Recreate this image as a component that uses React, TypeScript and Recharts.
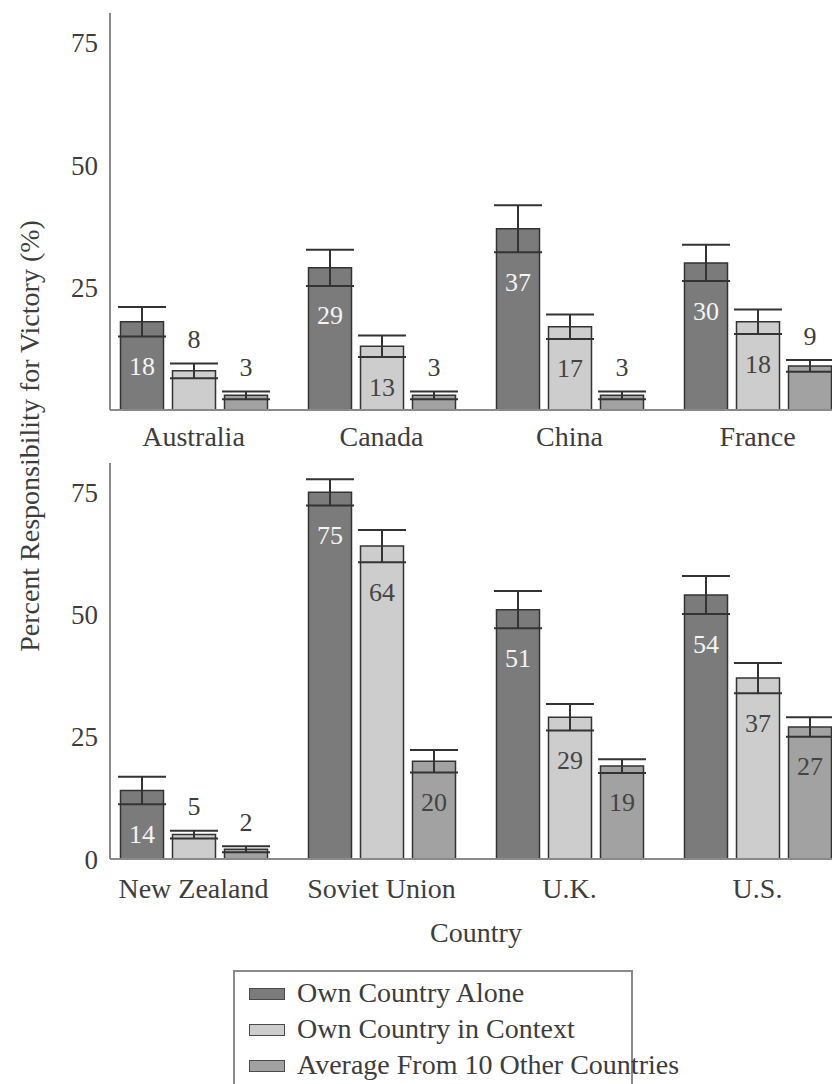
import React from 'react';
import { BarChart, Bar, XAxis, YAxis, ErrorBar, LabelList } from 'recharts';

// top panel
const topCountries = ['Australia', 'Canada', 'China', 'France'];
const topAlone = [18, 29, 37, 30];
const topContext = [8, 13, 17, 18];
const topOthers = [3, 3, 3, 9];
const topAloneErr = [3, 3.7, 4.8, 3.7];
const topContextErr = [1.5, 2.2, 2.5, 2.5];
const topOthersErr = [0.8, 0.8, 0.8, 1.2];

// bottom panel
const bottomCountries = ['New Zealand', 'Soviet Union', 'U.K.', 'U.S.'];
const bottomAlone = [14, 75, 51, 54];
const bottomContext = [5, 64, 29, 37];
const bottomOthers = [2, 20, 19, 27];
const bottomAloneErr = [2.8, 2.7, 3.8, 3.9];
const bottomContextErr = [0.8, 3.3, 2.7, 3.1];
const bottomOthersErr = [0.6, 2.3, 1.4, 2];

const topTicks = [25, 50, 75];
const bottomTicks = [0, 25, 50, 75];

const FONT = '"Liberation Serif", "DejaVu Serif", serif';
const TEXT = '#3d3d3d';
const AXIS = '#8a8a8a';
const EDGE = '#333';

const series = [
  { key: 'alone', name: 'Own Country Alone', fill: '#7b7b7b', inside: '#f4f4f4' },
  { key: 'context', name: 'Own Country in Context', fill: '#cdcdcd', inside: '#444' },
  { key: 'others', name: 'Average From 10 Other Countries', fill: '#a2a2a2', inside: '#444' },
];

function buildRows(
  countries: string[],
  alone: number[],
  context: number[],
  others: number[],
  aloneErr: number[],
  contextErr: number[],
  othersErr: number[]
) {
  return countries.map((country, i) => ({
    country,
    alone: alone[i],
    context: context[i],
    others: others[i],
    aloneErr: aloneErr[i],
    contextErr: contextErr[i],
    othersErr: othersErr[i],
  }));
}

const topRows = buildRows(topCountries, topAlone, topContext, topOthers, topAloneErr, topContextErr, topOthersErr);
const bottomRows = buildRows(bottomCountries, bottomAlone, bottomContext, bottomOthers, bottomAloneErr, bottomContextErr, bottomOthersErr);

// value label: inside the bar under the error bar, or above it for short bars
const makeLabel = (errs: number[], insideColor: string) => (props: any) => {
  const { x, y, width, height, value, index } = props;
  const v = Number(value);
  const ppu = v ? Number(height) / v : 0;
  const errPx = (errs[index] ?? 0) * ppu;
  const inside = v >= 10;
  const cy = inside ? Number(y) + errPx + 30 : Number(y) - errPx - 24;
  return (
    <text
      x={Number(x) + Number(width) / 2}
      y={cy}
      textAnchor="middle"
      dominantBaseline="central"
      fill={inside ? insideColor : TEXT}
      fontSize={26}
      fontFamily={FONT}
    >
      {v}
    </text>
  );
};

function Panel({ rows, ticks, height, labelGap }: { rows: any[]; ticks: number[]; height: number; labelGap: number }) {
  return (
    <BarChart
      width={860}
      height={height}
      data={rows}
      margin={{ top: 13, right: 8.5, left: 0, bottom: 12 }}
      barGap={9}
      barCategoryGap={20.5}
    >
      <XAxis
        dataKey="country"
        height={40}
        padding={{ left: -10.5, right: 0 }}
        axisLine={{ stroke: AXIS, strokeWidth: 2 }}
        tickLine={false}
        tickSize={0}
        tickMargin={labelGap}
        interval={0}
        tick={{ fill: TEXT, fontSize: 28, fontFamily: FONT }}
      />
      <YAxis
        width={110}
        domain={[0, 81]}
        ticks={ticks}
        allowDataOverflow
        axisLine={{ stroke: AXIS, strokeWidth: 2 }}
        tickLine={false}
        tickSize={0}
        tickMargin={12}
        tick={{ fill: TEXT, fontSize: 27, fontFamily: FONT }}
      />
      {series.map((s) => (
        <Bar key={s.key} dataKey={s.key} fill={s.fill} stroke={EDGE} strokeWidth={1.5} barSize={43} isAnimationActive={false}>
          <ErrorBar dataKey={s.key + 'Err'} width={24} stroke={EDGE} strokeWidth={2} />
          <LabelList dataKey={s.key} content={makeLabel(rows.map((r) => r[s.key + 'Err']), s.inside)} />
        </Bar>
      ))}
    </BarChart>
  );
}

export default function App() {
  return (
    <div
      style={{
        position: 'absolute',
        left: 0,
        top: 0,
        width: 832,
        height: 1084,
        overflow: 'hidden',
        background: '#fff',
        fontFamily: FONT,
      }}
    >
      <div style={{ position: 'absolute', left: 0, top: 0 }}>
        <Panel rows={topRows} ticks={topTicks} height={462} labelGap={16} />
      </div>
      <div style={{ position: 'absolute', left: 0, top: 450 }}>
        <Panel rows={bottomRows} ticks={bottomTicks} height={461} labelGap={19} />
      </div>

      <svg width={832} height={1084} style={{ position: 'absolute', left: 0, top: 0, pointerEvents: 'none' }}>
        <text
          x={0}
          y={0}
          transform="translate(29,436) rotate(-90)"
          textAnchor="middle"
          dominantBaseline="central"
          fill={TEXT}
          fontSize={28}
          fontFamily={FONT}
        >
          Percent Responsibility for Victory (%)
        </text>
        <text x={476} y={932} textAnchor="middle" dominantBaseline="central" fill={TEXT} fontSize={28} fontFamily={FONT}>
          Country
        </text>
      </svg>

      <div
        style={{
          position: 'absolute',
          left: 233,
          top: 970,
          width: 400,
          height: 130,
          border: `2px solid ${AXIS}`,
          boxSizing: 'border-box',
        }}
      >
        {series.map((s, i) => (
          <div key={s.key} style={{ position: 'absolute', left: 0, top: 3 + i * 36, height: 36, width: 396 }}>
            <div
              style={{
                position: 'absolute',
                left: 14,
                top: 13,
                width: 36,
                height: 12,
                background: s.fill,
                border: '1.5px solid #4a4a4a',
                boxSizing: 'border-box',
              }}
            />
            <div
              style={{
                position: 'absolute',
                left: 62,
                top: 0,
                lineHeight: '36px',
                fontSize: 28,
                color: TEXT,
                whiteSpace: 'nowrap',
              }}
            >
              {s.name}
            </div>
          </div>
        ))}
      </div>
    </div>
  );
}
